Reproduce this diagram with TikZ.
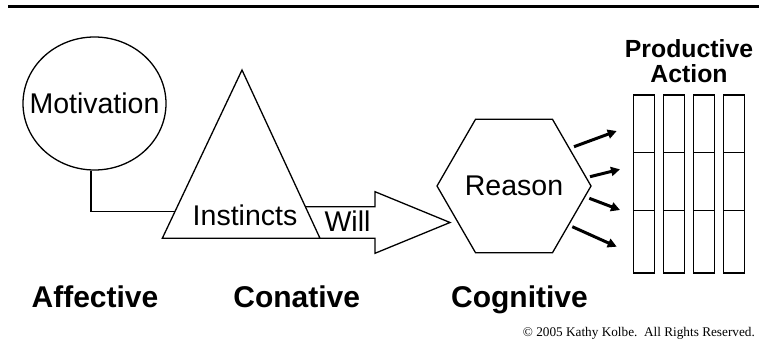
\documentclass[tikz,border=0pt]{standalone}
\usepackage{fontspec}
\setmainfont{Liberation Sans}
\newfontfamily\copyfont{Liberation Serif}
\usetikzlibrary{shapes.geometric,arrows.meta,calc}

\tikzset{
  txt/.style={font=\fontsize{28.5}{30}\selectfont, inner sep=0},
  level/.style={font=\fontsize{30}{32}\selectfont\bfseries, inner sep=0, anchor=base},
  push/.style={line width=3pt, -{Triangle[length=9pt,width=9pt]}}
}

\begin{document}
\begin{tikzpicture}[x=1pt, y=-1pt, line width=1.3pt]
\useasboundingbox (0,0) rectangle (759,339);

%top rule
\draw[line width=3pt] (8,7) -- (759,7);

%Motivation
\node[ellipse, draw, minimum width=143, minimum height=133, inner sep=0] (motiv) at (94.5,103.5) {};
\node[txt] (motivtxt) at (motiv) {Motivation};

%Instincts triangle
\coordinate (apex) at (242,70);
\coordinate (tl) at (162.3,238.3);
\coordinate (tr) at (320,238.3);
\draw (apex) -- (tl) -- (tr) -- cycle;
\node[txt, anchor=base] (inst) at (245,225) {Instincts};
\draw (motiv.-93.3) |- ($(tl)!0.16!(apex)$);

%Will arrow
\coordinate (wtop) at ($(tr)!0.1878!(apex)$);
\coordinate (willtip) at (450,222.5);
\draw (wtop) -- (375,206.7) -- (375,191.7) -- (willtip) -- (375,253.3) -- (375,238.3) -- (tr);
\node[txt, anchor=base] (will) at (347.5,231.7) {Will};

%Reason
\node[regular polygon, regular polygon sides=6, draw, minimum size=154, inner sep=0] (reason) at (514,186) {};
\node[txt] (reasontxt) at (reason) {Reason};

%to the bars
\foreach \sx/\sy/\ex/\ey in {574/146.7/616.7/131, 590/176.7/620/169.3, 589.3/198.3/620/210, 572.3/226.7/616.7/246.7}
  \draw[push] (\sx,\sy) -- (\ex,\ey);

%Productive action bars
\foreach \i in {0,...,3} {
  \draw[line width=1.5pt] (633.5+30*\i,95) rectangle ++(21,178);
  \draw[line width=1.5pt] (633.5+30*\i,152.3) -- ++(21,0);
  \draw[line width=1.5pt] (633.5+30*\i,210.7) -- ++(21,0);
}
\node[font=\fontsize{24.8}{25}\selectfont\bfseries, align=center, inner sep=0, anchor=north] (prod) at (689,38.7) {Productive\\Action};

%domains
\node[level] (aff) at (95,307.3) {Affective};
\node[level] (con) at (296.7,307.3) {Conative};
\node[level] (cog) at (519.5,307.3) {Cognitive};

\node[font=\copyfont\fontsize{13.25}{14}\selectfont, inner sep=0, anchor=base east] (copy) at (755.5,336.5) {© 2005 Kathy Kolbe.\ \ All Rights Reserved.};
\end{tikzpicture}
\end{document}
